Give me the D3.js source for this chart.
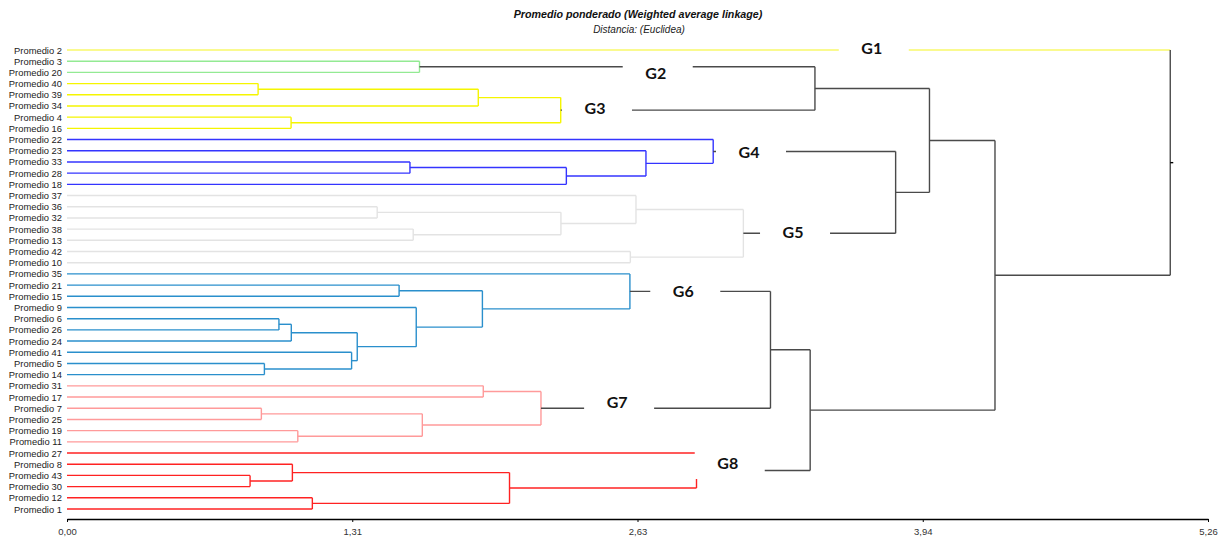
<!DOCTYPE html>
<html>
<head>
<meta charset="utf-8">
<script src="https://cdn.jsdelivr.net/npm/d3@7/dist/d3.min.js"></script>
<style>
  html, body { margin: 0; padding: 0; background: #fff; }
  svg { display: block; }
</style>
</head>
<body>
<svg id="chart" width="1230" height="537"></svg>
<script>
// ---------------- DATA ----------------
const title = "Promedio ponderado (Weighted average linkage)";
const subtitle = "Distancia: (Euclidea)";

// leaves, top to bottom
const leaves = [
  "Promedio 2", "Promedio 3", "Promedio 20", "Promedio 40", "Promedio 39", "Promedio 34",
  "Promedio 4", "Promedio 16", "Promedio 22", "Promedio 23", "Promedio 33", "Promedio 28",
  "Promedio 18", "Promedio 37", "Promedio 36", "Promedio 32", "Promedio 38", "Promedio 13",
  "Promedio 42", "Promedio 10", "Promedio 35", "Promedio 21", "Promedio 15", "Promedio 9",
  "Promedio 6", "Promedio 26", "Promedio 24", "Promedio 41", "Promedio 5", "Promedio 14",
  "Promedio 31", "Promedio 17", "Promedio 7", "Promedio 25", "Promedio 19", "Promedio 11",
  "Promedio 27", "Promedio 8", "Promedio 43", "Promedio 30", "Promedio 12", "Promedio 1"
];

// merges: "#k" refers to merge k
const mergeA = [
  "Promedio 3", "Promedio 40", "#1", "Promedio 4", "#2",
  "Promedio 33", "#5", "Promedio 23", "Promedio 22",
  "Promedio 36", "Promedio 38", "#9", "Promedio 37", "Promedio 42", "#12",
  "Promedio 21", "Promedio 6", "#16", "Promedio 5", "Promedio 41", "#17", "Promedio 9", "#15", "Promedio 35",
  "Promedio 31", "Promedio 7", "Promedio 19", "#25", "#24",
  "Promedio 43", "Promedio 8", "Promedio 12", "#30", "Promedio 27",
  "#0", "#8", "#34", "#23", "#37", "#36", "Promedio 2"
];
const mergeB = [
  "Promedio 20", "Promedio 39", "Promedio 34", "Promedio 16", "#3",
  "Promedio 28", "Promedio 18", "#6", "#7",
  "Promedio 32", "Promedio 13", "#10", "#11", "Promedio 10", "#13",
  "Promedio 15", "Promedio 26", "Promedio 24", "Promedio 14", "#18", "#19", "#20", "#21", "#22",
  "Promedio 17", "Promedio 25", "Promedio 11", "#26", "#27",
  "Promedio 30", "#29", "Promedio 1", "#31", "#32",
  "#4", "#14", "#35", "#28", "#33", "#38", "#39"
];
const mergeHeight = [
  1.625, 0.881, 1.896, 1.033, 2.276,
  1.581, 2.302, 2.669, 2.979,
  1.430, 1.596, 2.277, 2.623, 2.597, 3.118,
  1.531, 0.977, 1.034, 0.910, 1.312, 1.338, 1.610, 1.915, 2.595,
  1.919, 0.896, 1.064, 1.638, 2.185,
  0.844, 1.039, 1.131, 2.040, 2.902,
  3.448, 3.820, 3.976, 3.243, 3.426, 4.278, 5.086
];

// groups
const groupNames  = ["G1", "G2", "G3", "G4", "G5", "G6", "G7", "G8"];
const groupRoots  = ["Promedio 2", "#0", "#4", "#8", "#14", "#23", "#28", "#33"];
const groupColors = ["#f8f86a", "#93ea93", "#f5f500", "#3434ff", "#e3e3e3", "#2a8fcc", "#ff9a9a", "#ff2222"];

// axis
const axisMax = 5.26;
const tickValues = [0, 1.315, 2.63, 3.945, 5.26];
const tickLabels = ["0,00", "1,31", "2,63", "3,94", "5,26"];

// ---------------- LAYOUT ----------------
const svg = d3.select("#chart");
const x = d3.scaleLinear().domain([0, axisMax]).range([67, 1208]);
const y = d3.scalePoint().domain(leaves).range([50, 509]);
const upperColor = "#4a4a4a";

// build nodes
const nodes = {};
leaves.forEach(l => nodes[l] = { id: l, leaf: true, h: 0, y: y(l), children: [] });
mergeHeight.forEach((h, i) => {
  const a = nodes[mergeA[i]], b = nodes[mergeB[i]];
  const n = { id: "#" + i, leaf: false, h: h, y: (a.y + b.y) / 2, children: [a, b] };
  a.parent = n; b.parent = n;
  nodes[n.id] = n;
});
const root = nodes["#" + (mergeHeight.length - 1)];

// assign groups
function assign(n, g) { n.group = g; n.children.forEach(c => assign(c, g)); }
groupRoots.forEach((r, gi) => assign(nodes[r], gi));

function linkColor(child) {
  if (child.group === undefined) return upperColor;
  if (child.leaf) return groupColors[child.group];
  if (child.parent && child.parent.group === child.group) return groupColors[child.group];
  return upperColor;
}
function vertColor(n) {
  return n.group === undefined ? upperColor : groupColors[n.group];
}

const gLinks = svg.append("g").attr("fill", "none").attr("stroke-width", 1.4);
Object.values(nodes).filter(n => !n.leaf).forEach(n => {
  n.children.forEach(c => {
    gLinks.append("line")
      .attr("x1", x(c.h)).attr("x2", x(n.h))
      .attr("y1", c.y).attr("y2", c.y)
      .attr("stroke", linkColor(c));
  });
  gLinks.append("line")
    .attr("x1", x(n.h)).attr("x2", x(n.h))
    .attr("y1", n.children[0].y).attr("y2", n.children[1].y)
    .attr("stroke", vertColor(n));
});
// root stub
gLinks.append("line")
  .attr("x1", x(root.h)).attr("x2", x(root.h) + 3)
  .attr("y1", root.y).attr("y2", root.y)
  .attr("stroke", "#000");

// leaf labels
svg.append("g").selectAll("text").data(leaves).join("text")
  .attr("x", 62).attr("y", d => y(d))
  .attr("text-anchor", "end").attr("dominant-baseline", "central")
  .attr("font-family", "Liberation Sans, Arial, sans-serif")
  .attr("font-size", 9.4).attr("fill", "#222")
  .text(d => d);

// group labels (placement: x in distance units, dy relative to group's exit line)
const labelX  = [3.710, 2.714, 2.434, 3.144, 3.347, 2.841, 2.536, 3.046];
const labelDy = [-2.7, 6, -2.5, 0, -2, -1, -7, -8.5];
const gLab = svg.append("g");
groupNames.forEach((name, i) => {
  const r = nodes[groupRoots[i]];
  const cx = x(labelX[i]), cy = r.y + labelDy[i];
  gLab.append("rect")
    .attr("x", cx - 33).attr("y", cy - 14)
    .attr("width", 70).attr("height", 31)
    .attr("fill", "#fff");
  gLab.append("text")
    .attr("x", cx).attr("y", cy)
    .attr("text-anchor", "middle").attr("dominant-baseline", "central")
    .attr("font-family", "Lato, 'Open Sans', sans-serif")
    .attr("font-weight", "bold").attr("font-size", 16).attr("fill", "#111")
    .text(name);
});

// axis
const axis = d3.axisBottom(x)
  .tickValues(tickValues)
  .tickFormat((d, i) => tickLabels[i])
  .tickSize(3).tickSizeOuter(0).tickPadding(6);
const gAxis = svg.append("g").attr("transform", "translate(0,519)").call(axis);
gAxis.select(".domain").attr("stroke", "#000").attr("stroke-width", 1.4);
gAxis.selectAll(".tick line").attr("stroke", "#000");
gAxis.selectAll(".tick text")
  .attr("font-family", "Liberation Sans, Arial, sans-serif")
  .attr("font-size", 9.5).attr("fill", "#333");

// titles
svg.append("text").attr("x", 638).attr("y", 17.5)
  .attr("text-anchor", "middle")
  .attr("font-family", "Liberation Sans, Arial, sans-serif")
  .attr("font-weight", "bold").attr("font-style", "italic")
  .attr("font-size", 10.7).attr("fill", "#111")
  .text(title);
svg.append("text").attr("x", 639).attr("y", 32.5)
  .attr("text-anchor", "middle")
  .attr("font-family", "Liberation Sans, Arial, sans-serif")
  .attr("font-style", "italic")
  .attr("font-size", 10).attr("fill", "#222")
  .text(subtitle);
</script>
</body>
</html>
